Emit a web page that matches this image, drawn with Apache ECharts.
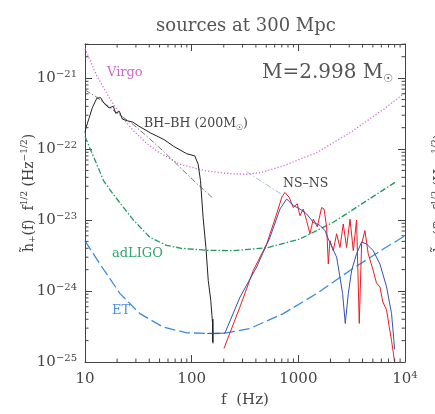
<!DOCTYPE html>
<html>
<head>
<meta charset="utf-8">
<script src="https://cdn.jsdelivr.net/npm/echarts@6/dist/echarts.min.js"></script>
<style>
  html, body { margin: 0; padding: 0; background: #fff; }
  #chart { width: 435px; height: 414px; }
</style>
</head>
<body>
<div id="chart"></div>
<script>
// values: frequency f (Hz) and h(f) f^1/2 (Hz^-1/2)
const virgoF = [10, 13, 17.4, 23.2, 28.8, 37, 47, 77.6, 138, 228, 327, 452, 722, 1483, 3050, 6250, 10000];
const virgoH = [2.6e-21, 1.05e-21, 4.9e-22, 2.6e-22, 1.78e-22, 1.24e-22, 9.4e-23, 6.1e-23, 4.9e-23, 4.5e-23, 4.4e-23, 4.7e-23, 5.8e-23, 8.9e-23, 1.7e-22, 3.6e-22, 6.2e-22];

const ligoF = [10, 11.5, 12.9, 14.9, 18.4, 22, 28.4, 40.6, 58.3, 80, 138, 245, 505, 1035, 2125, 4365, 8340];
const ligoH = [1.5e-22, 9.1e-23, 6.1e-23, 3.6e-23, 2.3e-23, 1.64e-23, 1.0e-23, 5.7e-24, 4.4e-24, 4.0e-24, 3.75e-24, 3.7e-24, 4.06e-24, 5.4e-24, 9.3e-24, 1.87e-23, 3.5e-23];

const etF = [10, 13.8, 21.3, 32.7, 54.2, 89.7, 160, 205, 352, 722, 1483, 3050, 6250, 10000];
const etH = [5.1e-24, 2.4e-24, 9.2e-25, 4.8e-25, 3.1e-25, 2.58e-25, 2.52e-25, 2.55e-25, 2.97e-25, 4.8e-25, 9.2e-25, 1.95e-24, 3.9e-24, 6.0e-24];

const bhF = [10, 10.2, 10.9, 11.7, 12.9, 14.0, 15.1, 16.8, 18.4, 19.4, 21, 22.4, 25, 28, 32, 41.3, 55, 67.3, 89.7, 107, 115, 121, 128, 136, 143, 151, 155, 157, 157.5, 158, 158.5];
const bhH = [1.7e-22, 1.98e-22, 2.7e-22, 3.8e-22, 5.2e-22, 5.3e-22, 4.4e-22, 3.8e-22, 4.0e-22, 3.2e-22, 3.4e-22, 2.64e-22, 2.5e-22, 2.4e-22, 2.1e-22, 1.68e-22, 1.36e-22, 1.1e-22, 8.6e-23, 8.0e-23, 6.1e-23, 3.6e-23, 1.09e-23, 4.1e-24, 1.41e-24, 7.4e-25, 4.5e-25, 3.5e-25, 1.9e-25, 4e-25, 1.83e-25];

// inspiral extrapolations (dash-dot)
const bhFitF = [10, 12.6, 15, 20, 28, 38.3, 54, 80, 111, 160];
const bhFitH = [6.8e-22, 5.5e-22, 4.5e-22, 3.2e-22, 2.25e-22, 1.5e-22, 9.4e-23, 5.3e-23, 3.3e-23, 2.0e-23];
const nsFitF = [327, 697];
const nsFitH = [4.8e-23, 2.3e-23];

const nsRedF = [201, 284, 378, 505, 626, 700, 748, 822, 896, 977, 1035, 1112, 1196, 1285, 1380, 1506, 1652, 1740, 1842, 1910, 1980, 2125, 2285, 2455, 2637, 2835, 3050, 3275, 3515, 3725, 3920, 4210, 4520, 5035, 5400, 5820, 6200, 6720, 7100, 7480, 7800, 8050];
const nsRedH = [1.56e-25, 6.0e-25, 1.95e-24, 4.6e-24, 1.22e-23, 2.1e-23, 2.45e-23, 2.08e-23, 1.5e-23, 1.7e-23, 1.15e-23, 1.43e-23, 9.8e-24, 6.4e-24, 1.03e-23, 8e-24, 1.5e-23, 1.43e-23, 8e-24, 2.4e-24, 5.1e-24, 3.7e-24, 6.4e-24, 4.1e-24, 8.8e-24, 4.1e-24, 1.03e-23, 3.7e-24, 1.0e-23, 3.5e-25, 4.6e-24, 7.1e-24, 3.35e-24, 1.95e-24, 1.3e-24, 1.14e-24, 7e-25, 5.4e-25, 3.2e-25, 2.0e-25, 1.3e-25, 9e-26];

const nsBlueF = [140, 205, 284, 406, 542, 673, 777, 896, 1035, 1196, 1380, 1596, 1778, 1910, 2050, 2285, 2455, 2600, 2755, 2940, 3160, 3515, 3920, 4365, 5035, 5820, 6720, 7480, 7870, 8000];
const nsBlueH = [2.52e-25, 2.55e-25, 8.2e-25, 2.17e-24, 5.7e-24, 1.43e-23, 1.98e-23, 1.6e-23, 1.43e-23, 1.22e-23, 9.3e-24, 8.4e-24, 7.1e-24, 5.4e-24, 4.3e-24, 3.0e-24, 1.57e-24, 9.2e-25, 3.5e-25, 9.2e-25, 1.95e-24, 3.35e-24, 4.9e-24, 4.6e-24, 3.7e-24, 2.4e-24, 1.14e-24, 4.8e-25, 2e-25, 1.5e-25];

// axis ranges (decades)
const xDecades = [1, 4];
const yDecades = [-25, -20.52];
const minorMant = [2, 3, 4, 5, 6, 7, 8, 9];

const FONT = 'DejaVu Serif';
const AXIS_COLOR = '#444';

const toXY = (F, H) => F.map((f, i) => [Math.log10(f), Math.log10(H[i])]);

// minor tick positions, log spaced like a real log axis
const xMinor = [];
for (let k = xDecades[0]; k < xDecades[1]; k++) {
  minorMant.forEach(m => xMinor.push([Math.log10(m) + k, yDecades[0]]));
}
const yMinor = [];
for (let k = yDecades[0]; k < Math.ceil(yDecades[1]); k++) {
  minorMant.forEach(m => {
    const v = Math.log10(m) + k;
    if (v < yDecades[1]) yMinor.push([xDecades[0], v]);
  });
}

const chart = echarts.init(document.getElementById('chart'), null, { renderer: 'canvas' });

const supRich = {
  b: { fontFamily: FONT, fontSize: 15, color: '#444', lineHeight: 18 },
  sup: { fontFamily: FONT, fontSize: 10, color: '#444', verticalAlign: 'top', lineHeight: 10 }
};

// rotated y title, also used for the clipped one of the next panel
const yTitleText = '{b|h\u0303}{sub|+}{b|(f)  f}{sup|1/2}{b| (Hz}{sup|\u22121/2}{b|)}';
const yTitleRich = {
  b: { fontFamily: FONT, fontSize: 14, fill: '#444', lineHeight: 17 },
  sup: { fontFamily: FONT, fontSize: 9, fill: '#444', verticalAlign: 'top', lineHeight: 9 },
  sub: { fontFamily: FONT, fontSize: 9, fill: '#444', verticalAlign: 'bottom', lineHeight: 9 }
};

function line(name, data, color, type, width, z) {
  return {
    name, type: 'line', data, showSymbol: false, symbol: 'none', z: z || 2,
    lineStyle: { color, type, width: width || 1 },
    emphasis: { disabled: true }, silent: true, animation: false
  };
}

function tickSeries(data, dir) {
  return {
    type: 'custom', data, silent: true, clip: false, z: 5, animation: false,
    renderItem(params, api) {
      const p = api.coord([api.value(0), api.value(1)]);
      const lo = api.coord([xDecades[0], yDecades[0]]);
      const hi = api.coord([xDecades[1], yDecades[1]]);
      const len = 3.5;
      const st = { stroke: AXIS_COLOR, lineWidth: 1 };
      if (dir === 'x') {
        return { type: 'group', children: [
          { type: 'line', shape: { x1: p[0], y1: lo[1], x2: p[0], y2: lo[1] - len }, style: st },
          { type: 'line', shape: { x1: p[0], y1: hi[1], x2: p[0], y2: hi[1] + len }, style: st }
        ] };
      }
      return { type: 'group', children: [
        { type: 'line', shape: { x1: lo[0], y1: p[1], x2: lo[0] + len, y2: p[1] }, style: st },
        { type: 'line', shape: { x1: hi[0], y1: p[1], x2: hi[0] - len, y2: p[1] }, style: st }
      ] };
    }
  };
}

const baseAxis = {
  type: 'value',
  axisLine: { show: true, onZero: false, lineStyle: { color: AXIS_COLOR, width: 1 } },
  axisTick: { show: true, inside: true, length: 7, lineStyle: { color: AXIS_COLOR } },
  splitLine: { show: false }
};

const option = {
  backgroundColor: '#fff',
  animation: false,
  grid: { left: 85, right: 30, top: 44, bottom: 52 },
  xAxis: [
    Object.assign({}, baseAxis, {
      min: xDecades[0], max: xDecades[1], interval: 1, position: 'bottom',
      name: 'f  (Hz)', nameLocation: 'middle', nameGap: 31,
      nameTextStyle: { fontFamily: FONT, fontSize: 15, color: '#444' },
      axisLabel: {
        margin: 8,
        formatter: v => (v >= 4 ? '{b|10}{sup|' + v + '}' : '{b|' + Math.pow(10, v) + '}'),
        rich: supRich
      }
    }),
    Object.assign({}, baseAxis, {
      min: xDecades[0], max: xDecades[1], interval: 1, position: 'top',
      axisLabel: { show: false }
    })
  ],
  yAxis: [
    Object.assign({}, baseAxis, {
      min: yDecades[0], max: yDecades[1], interval: 1, position: 'left',
      axisLabel: {
        margin: 8,
        formatter: v => (Math.abs(v - Math.round(v)) < 1e-6 ? '{b|10}{sup|\u2212' + Math.abs(Math.round(v)) + '}' : ''),
        rich: supRich
      }
    }),
    Object.assign({}, baseAxis, {
      min: yDecades[0], max: yDecades[1], interval: 1, position: 'right',
      axisLabel: { show: false }
    })
  ],
  series: [
    line('adLIGO', toXY(ligoF, ligoH), '#1f9a60', [6, 2, 1.5, 2], 1.3, 2),
    line('ET', toXY(etF, etH), '#3b8ddc', [11, 4], 1.3, 2),
    line('Virgo', toXY(virgoF, virgoH), '#d26ad2', [1.2, 2], 1.3, 2),
    line('BH-BH fit', toXY(bhFitF, bhFitH), '#555', [6, 2, 1.5, 2], 0.8, 3),
    line('NS-NS fit', toXY(nsFitF, nsFitH), '#8fa8e0', [6, 2, 1.5, 2], 0.8, 3),
    line('BH-BH', toXY(bhF, bhH), '#222', 'solid', 1, 4),
    line('NS-NS red', toXY(nsRedF, nsRedH), '#ec1c24', 'solid', 1, 4),
    line('NS-NS blue', toXY(nsBlueF, nsBlueH), '#3552b0', 'solid', 1, 4),
    tickSeries(xMinor, 'x'),
    tickSeries(yMinor, 'y')
  ],
  graphic: [
    { type: 'text', x: 246, y: 17, silent: true,
      style: { text: 'sources at 300 Mpc', font: '18px "DejaVu Serif"', fill: '#555', align: 'center' } },
    { type: 'text', x: 29, y: 193, rotation: Math.PI / 2, silent: true,
      style: { text: yTitleText, rich: yTitleRich, align: 'center', verticalAlign: 'middle' } },
    { type: 'text', x: 107, y: 66, silent: true,
      style: { text: 'Virgo', font: '13px "DejaVu Serif"', fill: '#cf66cf' } },
    { type: 'text', x: 262, y: 60, silent: true,
      style: { text: '{m|M=2.998 M}{s|\u2609}', rich: {
        m: { fontFamily: FONT, fontSize: 20, fill: '#555', lineHeight: 25 },
        s: { fontFamily: 'DejaVu Sans', fontSize: 11, fill: '#555', verticalAlign: 'bottom', lineHeight: 12 }
      } } },
    { type: 'text', x: 144, y: 116, silent: true,
      style: { text: '{m|BH\u2013BH (200M}{s|\u2609}{m|)}', rich: {
        m: { fontFamily: FONT, fontSize: 12.5, fill: '#444', lineHeight: 16 },
        s: { fontFamily: 'DejaVu Sans', fontSize: 8, fill: '#444', verticalAlign: 'bottom', lineHeight: 9 }
      } } },
    { type: 'text', x: 283, y: 177, silent: true,
      style: { text: 'NS\u2013NS', font: '12.5px "DejaVu Serif"', fill: '#444' } },
    { type: 'text', x: 112, y: 247, silent: true,
      style: { text: 'adLIGO', font: '13px "DejaVu Serif"', fill: '#2ea66c' } },
    { type: 'text', x: 112, y: 304, silent: true,
      style: { text: 'ET', font: '13px "DejaVu Serif"', fill: '#4a92de' } },
    // y title of the neighbouring panel, cut by the page edge
    { type: 'text', x: 440, y: 193, rotation: Math.PI / 2, silent: true,
      style: { text: yTitleText, rich: yTitleRich, align: 'center', verticalAlign: 'middle' } }
  ]
};

chart.setOption(option);
</script>
</body>
</html>
